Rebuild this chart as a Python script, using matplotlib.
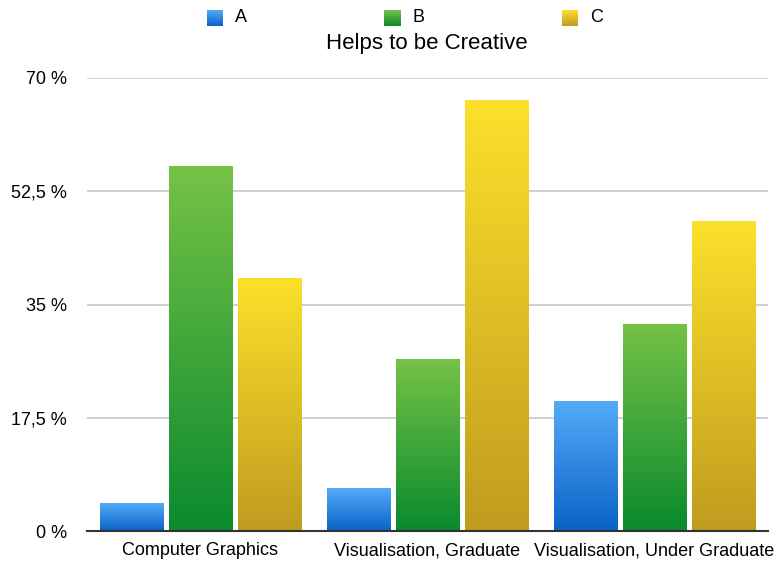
import numpy as np
import matplotlib
matplotlib.use("Agg")
import matplotlib.pyplot as plt
from matplotlib.colors import LinearSegmentedColormap

plt.rcParams['font.family'] = ['Liberation Sans', 'DejaVu Sans']

categories = ["Computer Graphics", "Visualisation, Graduate", "Visualisation, Under Graduate"]
series_names = ["A", "B", "C"]
values_A = [4.3, 6.6, 20.1]
values_B = [56.4, 26.6, 32.0]
values_C = [39.1, 66.6, 47.9]
yticks = [0, 17.5, 35, 52.5, 70]
ytick_labels = ["0 %", "17,5 %", "35 %", "52,5 %", "70 %"]
title = "Helps to be Creative"

grad_colors = [("#0a62c6", "#55abf9"), ("#0a8a2e", "#76c246"), ("#bf9c1f", "#fbe12b")]
cmaps = [LinearSegmentedColormap.from_list(f"g{i}", c) for i, c in enumerate(grad_colors)]

W, H = 776, 561
fig = plt.figure(figsize=(W / 100, H / 100), dpi=100)
ax = fig.add_axes([87 / W, (H - 531) / H, (768 - 87) / W, (531 - 78) / H])

x = np.arange(len(categories))
bw = 0.278
step = 0.304
grad = np.linspace(0, 1, 256).reshape(-1, 1)
for i, vals in enumerate([values_A, values_B, values_C]):
    bars = ax.bar(x + (i - 1) * step, vals, width=bw, color="none", edgecolor="none", zorder=3)
    for b in bars:
        x0, y0 = b.get_x(), b.get_y()
        im = ax.imshow(grad, cmap=cmaps[i], aspect="auto", origin="lower",
                       extent=[x0, x0 + b.get_width(), y0, y0 + b.get_height()], zorder=3)
        im.set_clip_path(b)

ax.set_xlim(-0.5, 2.5)
ax.set_ylim(0, 70)
ax.set_yticks(yticks)
ax.set_yticklabels(ytick_labels, fontsize=13)
ax.set_xticks(x)
ax.set_xticklabels(categories, fontsize=13)
ax.tick_params(axis="both", length=0)
ax.tick_params(axis="y", pad=14.5)
ax.tick_params(axis="x", pad=8)
ax.grid(axis="y", color="#c8c8c8", linewidth=1.2, zorder=0)
for s in ["top", "right", "left"]:
    ax.spines[s].set_visible(False)
ax.spines["bottom"].set_color("#333333")
ax.spines["bottom"].set_linewidth(1.5)
ax.spines["bottom"].set_zorder(4)

fig.text(427 / W, 1 - 44 / H, title, ha="center", va="center", fontsize=16)

leg_x = [207, 384, 562]
for i, name in enumerate(series_names):
    lax = fig.add_axes([leg_x[i] / W, 1 - 26 / H, 16 / W, 16 / H])
    lax.imshow(grad, cmap=cmaps[i], aspect="auto", origin="lower", extent=[0, 1, 0, 1])
    lax.axis("off")
    fig.text((leg_x[i] + 28) / W, 1 - 18 / H, name, ha="left", va="center", fontsize=13)

fig.savefig("out.png", dpi=100)
